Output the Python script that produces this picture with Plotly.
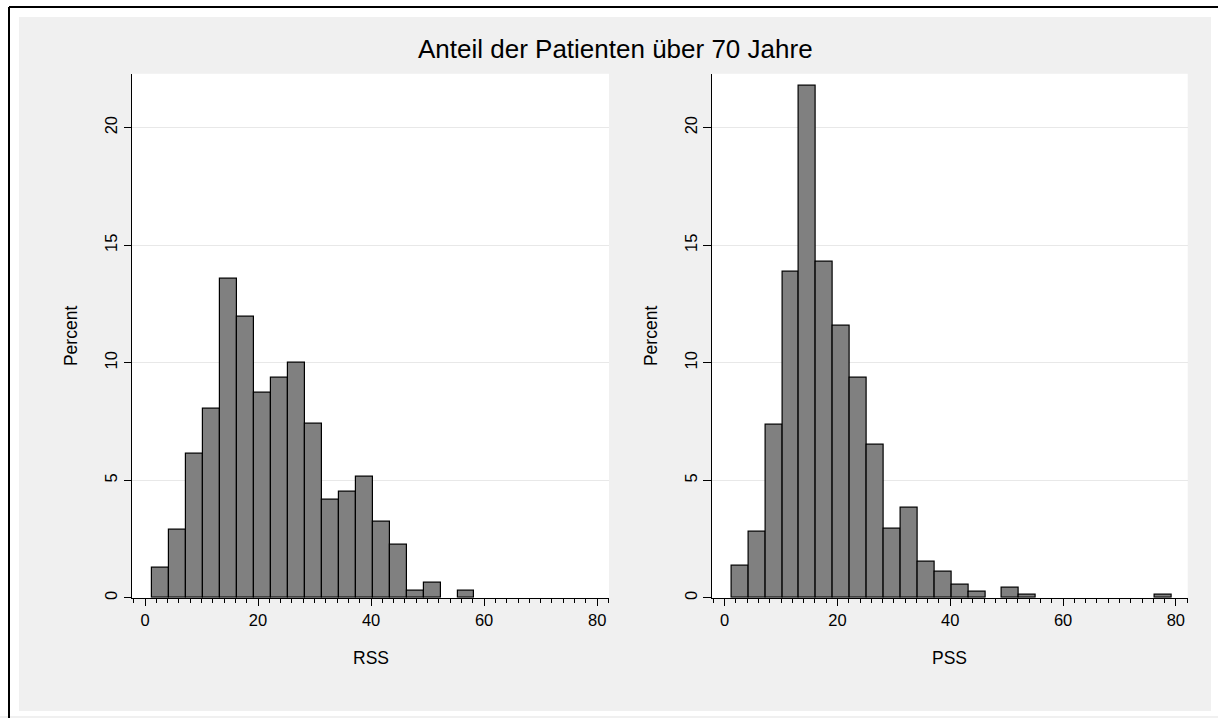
import plotly.graph_objects as go

# Histogram bins (percent of patients per bin)
rss_start = 1.3
rss_width = 3.0
rss_percent = [1.29, 2.90, 6.13, 8.06, 13.55, 11.94, 8.71, 9.35, 10.00, 7.42,
               4.19, 4.52, 5.16, 3.23, 2.26, 0.32, 0.65, 0.0, 0.32]

pss_start = 1.2
pss_width = 3.0
pss_percent = [1.38, 2.80, 7.36, 13.88, 21.79, 14.30, 11.59, 9.35, 6.51, 2.95,
               3.83, 1.52, 1.10, 0.55, 0.27, 0.0, 0.43, 0.13, 0.0, 0.0,
               0.0, 0.0, 0.0, 0.0, 0.0, 0.13]

x_ticks = [0, 20, 40, 60, 80]
y_ticks = [0, 5, 10, 15, 20]

title_text = "Anteil der Patienten über 70 Jahre"
panel_titles = ["RSS", "PSS"]
y_title = "Percent"

W, H = 1218, 718
FONT = "Liberation Sans, Arial, Helvetica, sans-serif"
GRAPH_BG = "#f0f0f0"
BAR_FILL = "#808080"


def px(x):
    return x / W


def py(y):
    return 1 - y / H


def bins(start, width, values):
    # empty bins are left undrawn
    xs, ys = [], []
    for i, v in enumerate(values):
        if v > 0:
            xs.append(start + (i + 0.5) * width)
            ys.append(v)
    return xs, ys


fig = go.Figure()
rx, ry = bins(rss_start, rss_width, rss_percent)
fig.add_trace(go.Bar(
    x=rx, y=ry, width=rss_width,
    marker=dict(color=BAR_FILL, line=dict(color="black", width=1.2)),
    xaxis="x", yaxis="y", showlegend=False, hoverinfo="x+y"))
qx, qy = bins(pss_start, pss_width, pss_percent)
fig.add_trace(go.Bar(
    x=qx, y=qy, width=pss_width,
    marker=dict(color=BAR_FILL, line=dict(color="black", width=1.2)),
    xaxis="x2", yaxis="y2", showlegend=False, hoverinfo="x+y"))

left_dom = [px(132), px(609)]
right_dom = [px(711.7), px(1187.7)]
y_dom = [py(599.5), py(74)]

xax = dict(range=[-2.3, 82.1], tickvals=x_ticks, ticks="outside", ticklen=7,
           tickwidth=1, tickcolor="black", showline=True, linecolor="black",
           linewidth=1, showgrid=False, zeroline=False,
           minor=dict(dtick=2, tick0=0, ticks="outside", ticklen=4,
                      tickcolor="black", tickwidth=1, showgrid=False),
           tickfont=dict(family=FONT, size=16.5, color="black"),
           fixedrange=True)
yax = dict(range=[0, 22.29], tickvals=y_ticks, ticks="outside", ticklen=7.5,
           tickwidth=1, tickcolor="black", showline=True, linecolor="black",
           linewidth=1, showgrid=True, gridcolor="#e8e8e8", gridwidth=1,
           zeroline=False, tickangle=-90,
           tickfont=dict(family=FONT, size=16.5, color="black"),
           fixedrange=True)

fig.update_layout(
    width=W, height=H,
    margin=dict(l=0, r=0, t=0, b=0),
    paper_bgcolor=GRAPH_BG, plot_bgcolor="white",
    bargap=0,
    xaxis=dict(xax, domain=left_dom, anchor="y"),
    yaxis=dict(yax, domain=y_dom, anchor="x"),
    xaxis2=dict(xax, domain=right_dom, anchor="y2"),
    yaxis2=dict(yax, domain=y_dom, anchor="x2"),
)

# white surround and black outer frame
shapes = [
    dict(type="rect", xref="paper", yref="paper", x0=0, x1=1, y0=py(17), y1=1,
         fillcolor="white", line=dict(width=0), layer="above"),
    dict(type="rect", xref="paper", yref="paper", x0=0, x1=px(19), y0=0, y1=1,
         fillcolor="white", line=dict(width=0), layer="above"),
    dict(type="rect", xref="paper", yref="paper", x0=px(1211), x1=1, y0=0, y1=1,
         fillcolor="white", line=dict(width=0), layer="above"),
    dict(type="rect", xref="paper", yref="paper", x0=0, x1=1, y0=0, y1=py(713),
         fillcolor="white", line=dict(width=0), layer="above"),
    dict(type="line", xref="paper", yref="paper", x0=px(9), x1=1.01, y0=py(7), y1=py(7),
         line=dict(color="black", width=2), layer="above"),
    dict(type="line", xref="paper", yref="paper", x0=px(9), x1=px(9), y0=py(7), y1=-0.01,
         line=dict(color="black", width=2), layer="above"),
]
fig.update_layout(shapes=shapes)

annotations = [
    dict(text=title_text, x=px(615), y=py(49), xref="paper", yref="paper",
         showarrow=False, xanchor="center", yanchor="middle",
         font=dict(family=FONT, size=26, color="black")),
    dict(text=panel_titles[0], x=px(370.5), y=py(660), xref="paper", yref="paper",
         showarrow=False, xanchor="center", yanchor="middle",
         font=dict(family=FONT, size=17.5, color="black")),
    dict(text=panel_titles[1], x=px(949.7), y=py(660), xref="paper", yref="paper",
         showarrow=False, xanchor="center", yanchor="middle",
         font=dict(family=FONT, size=17.5, color="black")),
    dict(text=y_title, x=px(71), y=py(337), xref="paper", yref="paper",
         showarrow=False, xanchor="center", yanchor="middle", textangle=-90,
         font=dict(family=FONT, size=17.5, color="black")),
    dict(text=y_title, x=px(651), y=py(337), xref="paper", yref="paper",
         showarrow=False, xanchor="center", yanchor="middle", textangle=-90,
         font=dict(family=FONT, size=17.5, color="black")),
]
fig.update_layout(annotations=annotations)

fig.write_html("out.html")
